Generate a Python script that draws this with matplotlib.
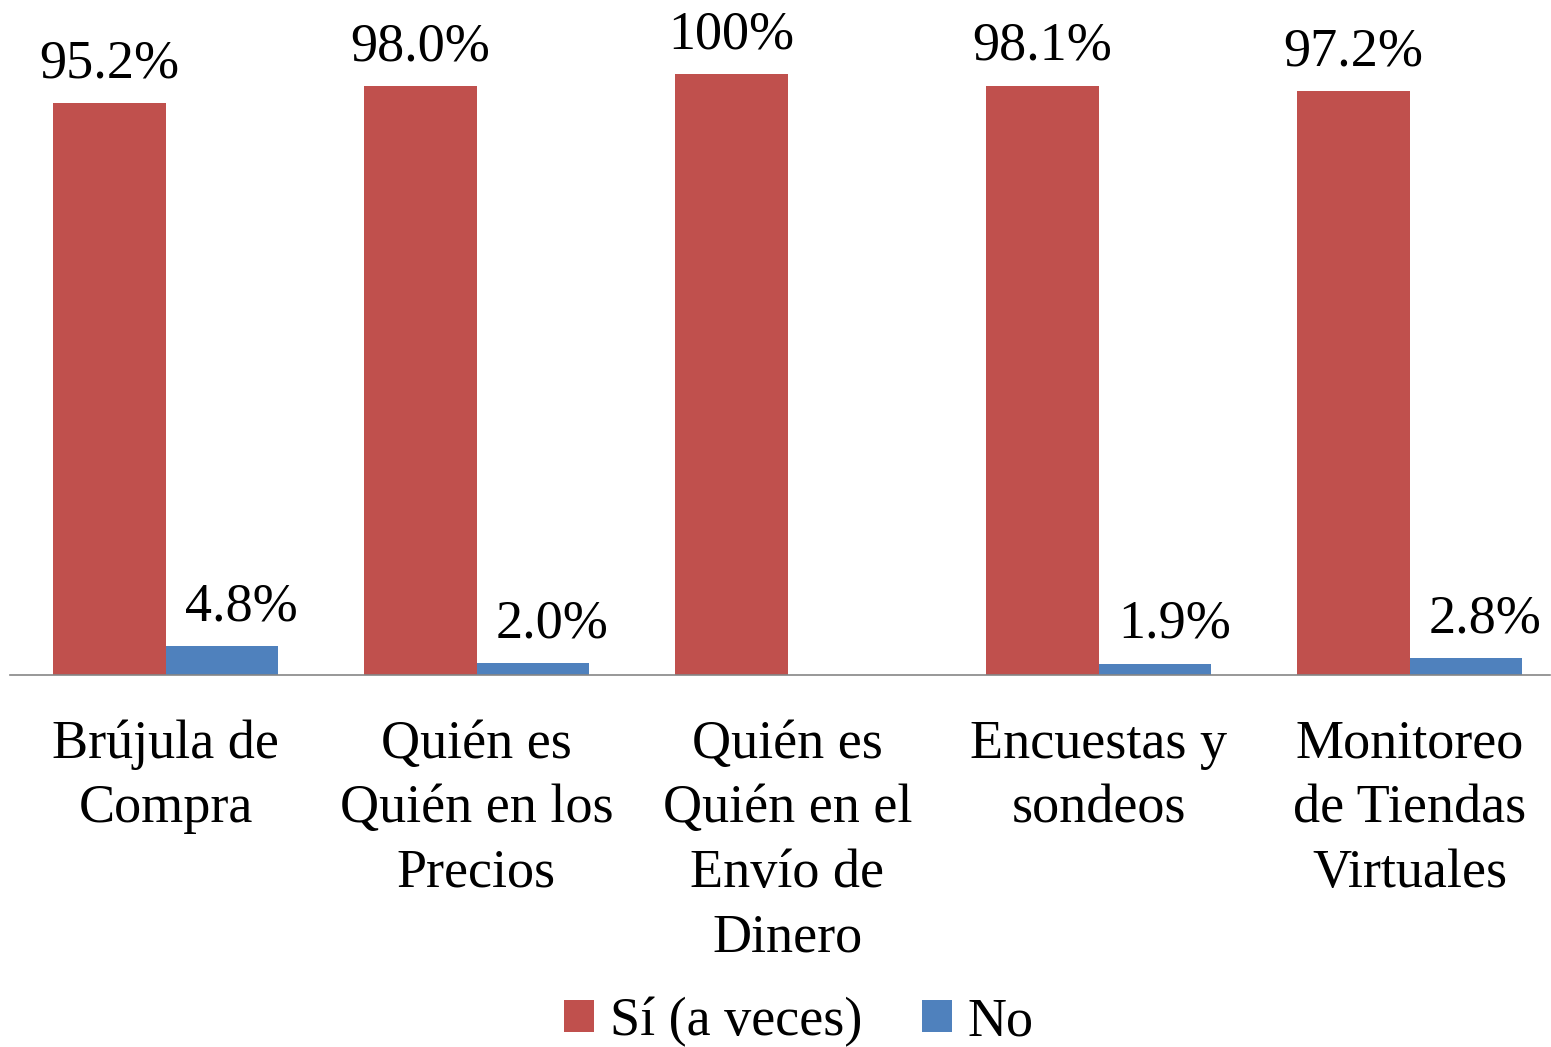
import matplotlib
matplotlib.use("Agg")
import matplotlib.pyplot as plt
import numpy as np

categories = ["Brújula de\nCompra", "Quién es\nQuién en los\nPrecios",
              "Quién es\nQuién en el\nEnvío de\nDinero", "Encuestas y\nsondeos",
              "Monitoreo\nde Tiendas\nVirtuales"]
si_values = [95.2, 98.0, 100.0, 98.1, 97.2]
no_values = [4.8, 2.0, None, 1.9, 2.8]
si_labels = ["95.2%", "98.0%", "100%", "98.1%", "97.2%"]
no_labels = ["4.8%", "2.0%", "", "1.9%", "2.8%"]
series_names = ["Sí (a veces)", "No"]

plt.rcParams['font.family'] = ['Liberation Serif', 'DejaVu Serif']
FS = 39

fig = plt.figure(figsize=(15.51, 10.47), dpi=100)
ax = fig.add_axes([10/1551, 1-675/1047, 1540/1551, 661/1047])

x = np.arange(len(categories))
w = 0.363
red = "#C0504D"
blue = "#4F81BD"
no_plot = [v if v is not None else 0 for v in no_values]
b1 = ax.bar(x - w/2, si_values, w, color=red, label=series_names[0])
b2 = ax.bar(x + w/2, no_plot, w, color=blue, label=series_names[1])

for xi, v, t in zip(x, si_values, si_labels):
    ax.annotate(t, (xi - w/2, v), xytext=(0, 10), textcoords='offset points',
                ha='center', va='bottom', fontsize=FS)
for xi, v, t in zip(x, no_plot, no_labels):
    if t:
        ax.annotate(t, (xi + w/2, v), xytext=(14, 10), textcoords='offset points',
                    ha='center', va='bottom', fontsize=FS)

ax.set_xlim(-0.5, -0.5 + 1540/311)
ax.set_ylim(0, 110)
ax.set_yticks([])
ax.set_xticks(x)
ax.set_xticklabels(categories, fontsize=FS, linespacing=1.36)
ax.tick_params(axis='x', length=0, pad=32)
for s in ['top', 'right', 'left']:
    ax.spines[s].set_visible(False)
ax.spines['bottom'].set_color('#868686')
ax.spines['bottom'].set_linewidth(1.2)

fig.legend(handles=[b1, b2], labels=series_names, loc='center',
           bbox_to_anchor=(0.515, 1-1022/1047), ncol=2, frameon=False,
           fontsize=FS, handlelength=0.55, handleheight=0.55, handletextpad=0.3,
           columnspacing=1.1)

fig.savefig("out.png", dpi=100)
